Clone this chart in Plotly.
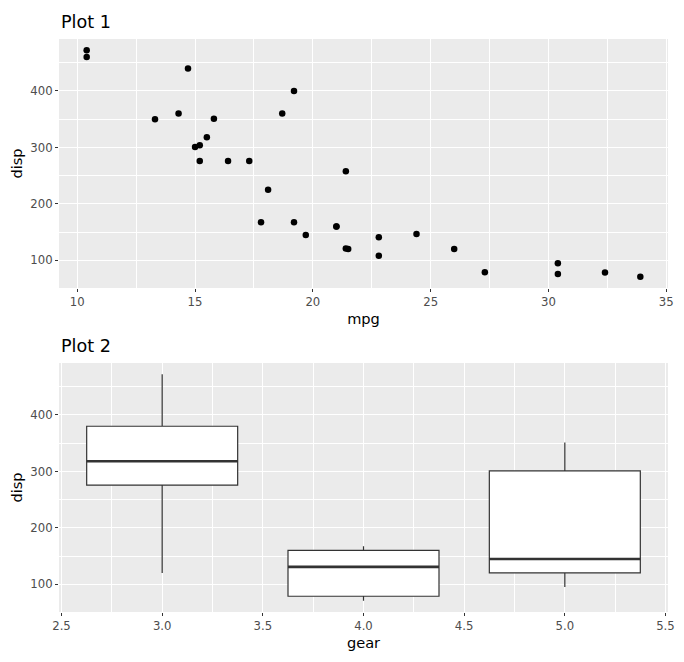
import numpy as np
import plotly.graph_objects as go
from plotly.subplots import make_subplots

# mtcars columns used
mpg = [21.0, 21.0, 22.8, 21.4, 18.7, 18.1, 14.3, 24.4, 22.8, 19.2, 17.8, 16.4,
       17.3, 15.2, 10.4, 10.4, 14.7, 32.4, 30.4, 33.9, 21.5, 15.5, 15.2, 13.3,
       19.2, 27.3, 26.0, 30.4, 15.8, 19.7, 15.0, 21.4]
disp = [160, 160, 108, 258, 360, 225, 360, 146.7, 140.8, 167.6, 167.6, 275.8,
        275.8, 275.8, 472, 460, 440, 78.7, 75.7, 71.1, 120.1, 318, 304, 350,
        400, 79, 120.3, 95.1, 351, 145, 301, 121]
gear = [4, 4, 4, 3, 3, 3, 3, 4, 4, 4, 4, 3, 3, 3, 3, 3, 3, 4, 4, 4, 3, 3, 3, 3,
        3, 4, 5, 5, 5, 5, 5, 4]
gear_levels = [3, 4, 5]

BG = "#EBEBEB"
TICK = "#4D4D4D"
FONT = "DejaVu Sans"

fig = make_subplots(rows=2, cols=1, vertical_spacing=0.1308)

fig.add_trace(go.Scatter(x=mpg, y=disp, mode="markers",
                         marker=dict(color="black", size=6.5),
                         showlegend=False), row=1, col=1)

# boxplots with R-style (type 7) quartiles and 1.5*IQR whiskers
g = np.array(gear)
d = np.array(disp, dtype=float)
for lv in gear_levels:
    v = d[g == lv]
    q1, med, q3 = np.percentile(v, [25, 50, 75])
    iqr = q3 - q1
    lo = v[v >= q1 - 1.5 * iqr].min()
    hi = v[v <= q3 + 1.5 * iqr].max()
    fig.add_trace(go.Box(x=[lv], q1=[q1], median=[med], q3=[q3],
                         lowerfence=[lo], upperfence=[hi], width=0.75,
                         whiskerwidth=0, fillcolor="white",
                         line=dict(color="#333333", width=1.2),
                         showlegend=False, hoverinfo="skip"), row=2, col=1)
    fig.add_trace(go.Scatter(x=[lv - 0.375, lv + 0.375], y=[med, med],
                             mode="lines", line=dict(color="#333333", width=2.6),
                             showlegend=False, hoverinfo="skip"), row=2, col=1)

axis_common = dict(showline=False, zeroline=False, gridcolor="white", gridwidth=1.4,
                   ticks="outside", ticklen=3, tickcolor="#333333", tickwidth=1,
                   automargin=False,
                   tickfont=dict(family=FONT, size=11.7, color=TICK),
                   title_font=dict(family=FONT, size=14.6, color="black"))

fig.update_xaxes(**axis_common, title_standoff=5)
fig.update_yaxes(**axis_common, title_standoff=4)

fig.update_xaxes(range=[9.225, 35.075], tickvals=[10, 15, 20, 25, 30, 35],
                 minor=dict(tickvals=[12.5, 17.5, 22.5, 27.5, 32.5], showgrid=True,
                            gridcolor="white", gridwidth=0.7, ticks=""),
                 title_text="mpg", row=1, col=1)
fig.update_xaxes(range=[2.4875, 5.5125], tickvals=[2.5, 3.0, 3.5, 4.0, 4.5, 5.0, 5.5],
                 ticktext=["2.5", "3.0", "3.5", "4.0", "4.5", "5.0", "5.5"],
                 minor=dict(tickvals=[2.75, 3.25, 3.75, 4.25, 4.75, 5.25], showgrid=True,
                            gridcolor="white", gridwidth=0.7, ticks=""),
                 title_text="gear", row=2, col=1)
for r in (1, 2):
    fig.update_yaxes(range=[51.055, 492.045], tickvals=[100, 200, 300, 400],
                     minor=dict(tickvals=[150, 250, 350, 450], showgrid=True,
                                gridcolor="white", gridwidth=0.7, ticks=""),
                     title_text="disp", row=r, col=1)

# the page body keeps an 8px margin, so the figure is drawn 8px smaller
fig.update_layout(
    width=676, height=654,
    margin=dict(l=51, r=16, t=31, b=50),
    paper_bgcolor="white", plot_bgcolor=BG,
    font=dict(family=FONT),
    yaxis=dict(domain=[0.5654, 1]),
    yaxis2=dict(domain=[0, 0.4346]),
    annotations=[
        dict(text="Plot 1", xref="paper", yref="paper", x=0, y=1, yshift=5,
             xanchor="left", yanchor="bottom", showarrow=False,
             font=dict(family=FONT, size=17.6, color="black")),
        dict(text="Plot 2", xref="paper", yref="paper", x=0, y=0.4346, yshift=5,
             xanchor="left", yanchor="bottom", showarrow=False,
             font=dict(family=FONT, size=17.6, color="black")),
    ],
)

fig.write_html("out.html")
